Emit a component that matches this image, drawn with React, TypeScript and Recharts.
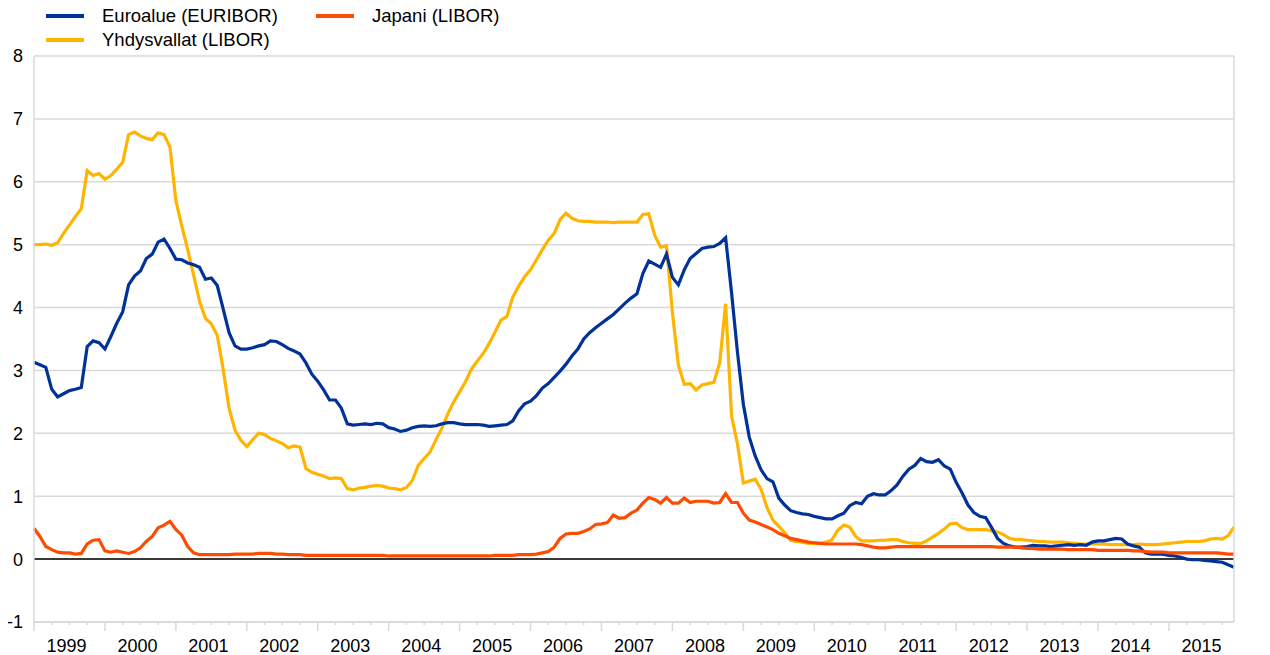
import React from "react";
import {
  LineChart,
  Line,
  XAxis,
  YAxis,
  CartesianGrid,
  ReferenceLine,
} from "recharts";

// 3 kk korot, kuukausikeskiarvot 1999-01 ... 2015-12
const years = [
  1999, 2000, 2001, 2002, 2003, 2004, 2005, 2006, 2007, 2008, 2009, 2010,
  2011, 2012, 2013, 2014, 2015,
];

const euribor = [
  3.13, 3.09, 3.05, 2.7, 2.58, 2.63, 2.68, 2.7, 2.73, 3.38, 3.47, 3.44,
  3.34, 3.54, 3.75, 3.93, 4.36, 4.5, 4.58, 4.78, 4.85, 5.04, 5.09, 4.94,
  4.77, 4.76, 4.71, 4.68, 4.64, 4.45, 4.47, 4.35, 3.98, 3.6, 3.39, 3.34,
  3.34, 3.36, 3.39, 3.41, 3.47, 3.46, 3.41, 3.35, 3.31, 3.26, 3.12, 2.94,
  2.83, 2.69, 2.53, 2.53, 2.4, 2.15, 2.13, 2.14, 2.15, 2.14, 2.16, 2.15,
  2.09, 2.07, 2.03, 2.05, 2.09, 2.11, 2.12, 2.11, 2.12, 2.15, 2.17, 2.17,
  2.15, 2.14, 2.14, 2.14, 2.13, 2.11, 2.12, 2.13, 2.14, 2.2, 2.36, 2.47,
  2.51, 2.6, 2.72, 2.79, 2.89, 2.99, 3.1, 3.23, 3.34, 3.5, 3.6, 3.68,
  3.75, 3.82, 3.89, 3.98, 4.07, 4.15, 4.22, 4.54, 4.74, 4.69, 4.64, 4.85,
  4.48, 4.36, 4.6, 4.78, 4.86, 4.94, 4.96, 4.97, 5.02, 5.11, 4.24, 3.29,
  2.46, 1.94, 1.64, 1.42, 1.28, 1.23, 0.97, 0.86, 0.77, 0.74, 0.72, 0.71,
  0.68, 0.66, 0.64, 0.64, 0.69, 0.73, 0.85, 0.9, 0.88, 1.0, 1.04, 1.02,
  1.02, 1.09, 1.18, 1.32, 1.43, 1.49, 1.6, 1.55, 1.54, 1.58, 1.48, 1.43,
  1.22, 1.05, 0.86, 0.74, 0.68, 0.66, 0.5, 0.33, 0.25, 0.21, 0.19, 0.19,
  0.2, 0.22, 0.21, 0.21, 0.2, 0.21, 0.22, 0.23, 0.22, 0.23, 0.22, 0.27,
  0.29, 0.29, 0.31, 0.33, 0.32, 0.24, 0.21, 0.19, 0.1, 0.08, 0.08, 0.08,
  0.06, 0.05, 0.03, 0.0, -0.01, -0.01, -0.02, -0.03, -0.04, -0.05, -0.09, -0.13,
];

const usLibor = [
  5.0, 5.0, 5.01, 4.99, 5.03, 5.18, 5.31, 5.45, 5.57, 6.18, 6.1, 6.13,
  6.04, 6.1, 6.2, 6.31, 6.75, 6.79, 6.73, 6.69, 6.67, 6.78, 6.75, 6.55,
  5.7, 5.3, 4.92, 4.52, 4.1, 3.83, 3.74, 3.56, 3.02, 2.4, 2.05, 1.89,
  1.79, 1.9, 2.0, 1.98, 1.92, 1.88, 1.84, 1.77, 1.8, 1.78, 1.44, 1.38,
  1.35, 1.32, 1.28, 1.29, 1.28, 1.12, 1.1, 1.13, 1.14, 1.16, 1.17, 1.16,
  1.13, 1.12, 1.1, 1.14, 1.25, 1.49, 1.6, 1.7, 1.9, 2.08, 2.31, 2.5,
  2.66, 2.82, 3.02, 3.15, 3.27, 3.43, 3.61, 3.8, 3.86, 4.17, 4.34, 4.49,
  4.6, 4.76, 4.92, 5.07, 5.18, 5.4, 5.5, 5.42, 5.38, 5.37, 5.37, 5.36,
  5.36, 5.36, 5.35, 5.36, 5.36, 5.36, 5.36, 5.48, 5.49, 5.15, 4.96, 4.98,
  3.92, 3.09, 2.78, 2.79, 2.69, 2.77, 2.79, 2.81, 3.12, 4.06, 2.28, 1.83,
  1.21, 1.24, 1.27, 1.11, 0.82, 0.62, 0.52, 0.42, 0.3, 0.28, 0.27, 0.25,
  0.25, 0.25, 0.27, 0.31, 0.46, 0.54, 0.51, 0.36, 0.29, 0.29, 0.29, 0.3,
  0.3, 0.31, 0.31, 0.28, 0.26, 0.25, 0.25, 0.29, 0.35, 0.41, 0.48, 0.56,
  0.57, 0.5, 0.47, 0.47, 0.47, 0.47, 0.45, 0.43, 0.39, 0.33, 0.31, 0.31,
  0.3, 0.29, 0.28, 0.28, 0.27, 0.27, 0.27, 0.26, 0.25, 0.24, 0.24, 0.24,
  0.24, 0.24, 0.23, 0.23, 0.23, 0.23, 0.23, 0.24, 0.23, 0.23, 0.23, 0.24,
  0.25, 0.26, 0.27, 0.28, 0.28, 0.28, 0.29, 0.32, 0.33, 0.32, 0.37, 0.51,
];

const jpLibor = [
  0.49, 0.36, 0.2, 0.15, 0.11, 0.1, 0.1, 0.08, 0.09, 0.24, 0.3, 0.31,
  0.13, 0.11, 0.13, 0.11, 0.09, 0.12, 0.18, 0.28, 0.36, 0.5, 0.54, 0.6,
  0.47, 0.38, 0.2, 0.1, 0.07, 0.07, 0.07, 0.07, 0.07, 0.07, 0.08, 0.08,
  0.08, 0.08, 0.09, 0.09, 0.09, 0.08, 0.08, 0.07, 0.07, 0.07, 0.06, 0.06,
  0.06, 0.06, 0.06, 0.06, 0.06, 0.06, 0.06, 0.06, 0.06, 0.06, 0.06, 0.06,
  0.05, 0.05, 0.05, 0.05, 0.05, 0.05, 0.05, 0.05, 0.05, 0.05, 0.05, 0.05,
  0.05, 0.05, 0.05, 0.05, 0.05, 0.05, 0.06, 0.06, 0.06, 0.06, 0.07, 0.07,
  0.07, 0.08, 0.1, 0.12, 0.19, 0.33, 0.4, 0.41, 0.41, 0.44, 0.48, 0.55,
  0.56, 0.58, 0.7, 0.65, 0.66, 0.73, 0.78, 0.89, 0.98, 0.95, 0.89, 0.98,
  0.89, 0.89, 0.97, 0.9, 0.92, 0.92, 0.92, 0.89, 0.9, 1.04, 0.9, 0.9,
  0.73, 0.62, 0.59, 0.55, 0.51, 0.47, 0.41, 0.37, 0.33, 0.31, 0.29, 0.27,
  0.26, 0.25, 0.24, 0.24, 0.24, 0.24, 0.24, 0.24, 0.23, 0.21, 0.19, 0.18,
  0.18, 0.19, 0.2, 0.2, 0.2, 0.2, 0.2, 0.2, 0.2, 0.2, 0.2, 0.2,
  0.2, 0.2, 0.2, 0.2, 0.2, 0.2, 0.2, 0.19, 0.19, 0.19, 0.19, 0.18,
  0.17, 0.17, 0.16, 0.16, 0.16, 0.16, 0.16, 0.15, 0.15, 0.15, 0.15, 0.15,
  0.14, 0.14, 0.14, 0.14, 0.14, 0.14, 0.13, 0.13, 0.12, 0.11, 0.11, 0.11,
  0.1, 0.1, 0.1, 0.1, 0.1, 0.1, 0.1, 0.1, 0.1, 0.09, 0.08, 0.08,
];

const yTicks = [-1, 0, 1, 2, 3, 4, 5, 6, 7, 8];

const BLUE = "#003299";
const YELLOW = "#FFB400";
const ORANGE = "#FF4B00";
const GRID = "#d9d9d9";
const FONT = '"Liberation Sans", Arial, sans-serif';

const PLOT_W = 1200;
const LAST = euribor.length - 1;
const MONTH_PX = PLOT_W / LAST;

const chartData = euribor.map((eu, i) => ({
  i,
  eu,
  us: usLibor[i],
  jp: jpLibor[i],
}));

// neljännesvuosittaiset tikit, vuosiluku keskelle vuotta
const quarterTicks = years
  .flatMap((_, k) => [k * 12, k * 12 + 3, k * 12 + 6, k * 12 + 9])
  .filter((m) => m <= LAST);

const XTick = (props: any) => {
  const { x, y, payload } = props;
  const m = payload.value as number;
  const major = m % 12 === 0;
  return (
    <g>
      <line x1={x} x2={x} y1={y} y2={y + (major ? 9 : 3)} stroke={GRID} strokeWidth={1.5} />
      {major && (
        <text
          x={x + 5.5 * MONTH_PX}
          y={y + 30}
          textAnchor="middle"
          fontSize={18}
          fontFamily={FONT}
          fill="#000"
        >
          {years[m / 12]}
        </text>
      )}
    </g>
  );
};

const legendItems = [
  { name: "Euroalue (EURIBOR)", color: BLUE, left: 38, top: -2 },
  { name: "Japani (LIBOR)", color: ORANGE, left: 308, top: -2 },
  { name: "Yhdysvallat (LIBOR)", color: YELLOW, left: 38, top: 22 },
];

const App: React.FC = () => {
  return (
    <div style={{ position: "relative", width: 1254, height: 650, fontFamily: FONT }}>
      <LineChart
        width={1254}
        height={650}
        data={chartData}
        margin={{ top: 48, right: 0, bottom: 0, left: 0 }}
      >
        <CartesianGrid horizontal vertical={false} stroke={GRID} strokeWidth={1.5} />
        <XAxis
          dataKey="i"
          type="number"
          domain={[0, LAST]}
          ticks={quarterTicks}
          interval={0}
          height={36}
          axisLine={{ stroke: GRID, strokeWidth: 1.5 }}
          tickLine={false}
          tickSize={0}
          tickMargin={0}
          tick={<XTick />}
        />
        <YAxis
          domain={[-1, 8]}
          ticks={yTicks}
          interval={0}
          width={26}
          axisLine={{ stroke: GRID, strokeWidth: 1.5 }}
          tickLine={false}
          tickSize={0}
          tickMargin={11}
          tick={{ fontSize: 18, fill: "#000", fontFamily: FONT }}
        />
        <YAxis
          yAxisId="r"
          orientation="right"
          domain={[-1, 8]}
          ticks={yTicks}
          interval={0}
          width={28}
          axisLine={{ stroke: GRID, strokeWidth: 1.5 }}
          tickLine={false}
          tickSize={0}
          tickMargin={28}
          tick={{ fontSize: 18, fill: "#000", fontFamily: FONT, textAnchor: "end" }}
        />
        <ReferenceLine y={0} stroke="#000" strokeWidth={1.5} />
        <Line
          dataKey="us"
          stroke={YELLOW}
          strokeWidth={3.2}
          dot={false}
          type="linear"
          isAnimationActive={false}
        />
        <Line
          dataKey="eu"
          stroke={BLUE}
          strokeWidth={3.2}
          dot={false}
          type="linear"
          isAnimationActive={false}
        />
        <Line
          dataKey="jp"
          stroke={ORANGE}
          strokeWidth={3.2}
          dot={false}
          type="linear"
          isAnimationActive={false}
        />
      </LineChart>
      {legendItems.map((it) => (
        <div
          key={it.name}
          style={{
            position: "absolute",
            left: it.left,
            top: it.top,
            height: 20,
            display: "flex",
            alignItems: "center",
            fontSize: 18.5,
            color: "#000",
            whiteSpace: "nowrap",
          }}
        >
          <span
            style={{
              display: "inline-block",
              width: 38,
              height: 4,
              background: it.color,
              marginRight: 18,
            }}
          />
          {it.name}
        </div>
      ))}
    </div>
  );
};

export default App;
